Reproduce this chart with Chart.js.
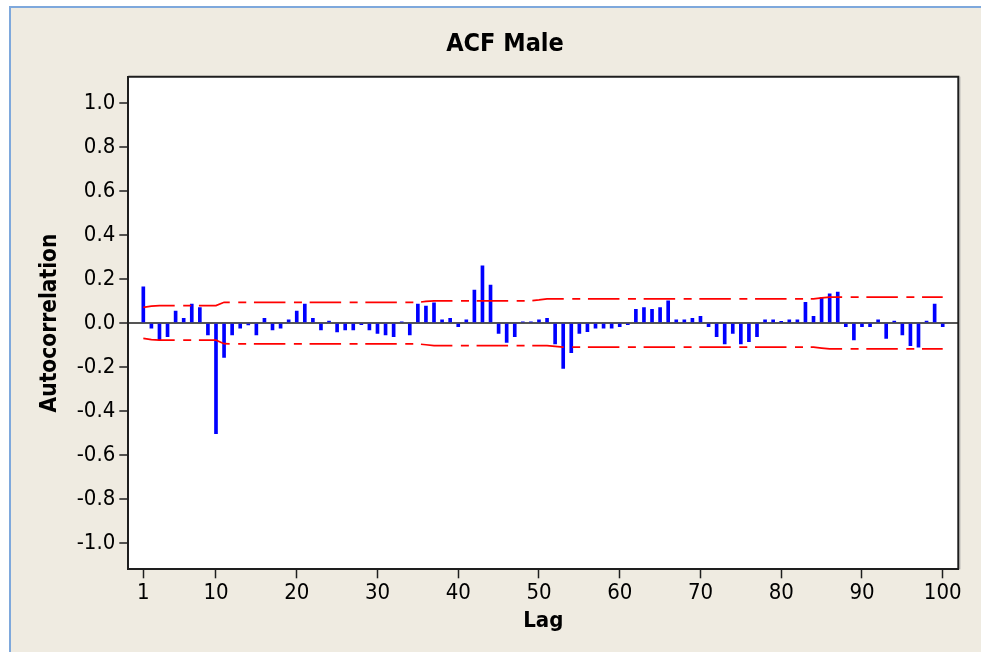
<!DOCTYPE html>
<html>
<head>
<meta charset="utf-8">
<script src="https://cdn.jsdelivr.net/npm/chart.js@4/dist/chart.umd.min.js"></script>
<style>
  html, body { margin: 0; padding: 0; background: #ffffff; width: 981px; height: 652px; overflow: hidden; }
  #frame { position: absolute; left: 9px; top: 6px; width: 972px; height: 646px;
           background: #efebe1; border-top: 2px solid #7ea8dc; border-left: 2px solid #7ea8dc; box-sizing: border-box; }
  #c { position: absolute; left: 0; top: 0; }
</style>
</head>
<body>
<div id="frame"></div>
<canvas id="c" width="981" height="652"></canvas>
<script>
const lags = [];
for (let i = 1; i <= 100; i++) lags.push(i);

const acf = [
  0.165, -0.024, -0.077, -0.062, 0.054, 0.021, 0.086, 0.070, -0.054, -0.503,
  -0.157, -0.054, -0.024, -0.009, -0.054, 0.021, -0.032, -0.024, 0.014, 0.054,
  0.086, 0.021, -0.032, 0.009, -0.040, -0.032, -0.032, -0.008, -0.032, -0.047,
  -0.054, -0.062, 0.005, -0.054, 0.086, 0.077, 0.092, 0.014, 0.021, -0.017,
  0.014, 0.150, 0.260, 0.172, -0.047, -0.088, -0.062, 0.005, 0.005, 0.014,
  0.021, -0.095, -0.206, -0.135, -0.047, -0.039, -0.024, -0.024, -0.024, -0.017,
  -0.008, 0.062, 0.070, 0.062, 0.070, 0.101, 0.014, 0.014, 0.021, 0.030,
  -0.017, -0.062, -0.095, -0.047, -0.095, -0.085, -0.062, 0.014, 0.014, 0.008,
  0.014, 0.014, 0.094, 0.030, 0.116, 0.133, 0.141, -0.017, -0.077, -0.017,
  -0.017, 0.014, -0.070, 0.009, -0.054, -0.103, -0.110, 0.009, 0.086, -0.017
];

const upperLimit = [
  0.071, 0.077, 0.079, 0.079, 0.079, 0.079, 0.079, 0.079, 0.079, 0.079,
  0.094, 0.094, 0.094, 0.094, 0.094, 0.094, 0.094, 0.094, 0.094, 0.094,
  0.094, 0.094, 0.094, 0.094, 0.094, 0.094, 0.094, 0.094, 0.094, 0.094,
  0.094, 0.094, 0.094, 0.094, 0.094, 0.098, 0.101, 0.101, 0.101, 0.101,
  0.101, 0.101, 0.101, 0.101, 0.101, 0.101, 0.101, 0.101, 0.101, 0.105,
  0.110, 0.110, 0.110, 0.110, 0.110, 0.110, 0.110, 0.110, 0.110, 0.110,
  0.110, 0.110, 0.110, 0.110, 0.110, 0.110, 0.110, 0.110, 0.110, 0.110,
  0.110, 0.110, 0.110, 0.110, 0.110, 0.110, 0.110, 0.110, 0.110, 0.110,
  0.110, 0.110, 0.110, 0.110, 0.114, 0.118, 0.118, 0.118, 0.118, 0.118,
  0.118, 0.118, 0.118, 0.118, 0.118, 0.118, 0.118, 0.118, 0.118, 0.118
];

const lowerLimit = [
  -0.070, -0.076, -0.078, -0.078, -0.078, -0.078, -0.078, -0.078, -0.078, -0.078,
  -0.094, -0.095, -0.095, -0.095, -0.095, -0.095, -0.095, -0.095, -0.095, -0.095,
  -0.095, -0.095, -0.095, -0.095, -0.095, -0.095, -0.095, -0.095, -0.095, -0.095,
  -0.095, -0.095, -0.095, -0.095, -0.095, -0.099, -0.103, -0.103, -0.103, -0.103,
  -0.103, -0.103, -0.103, -0.103, -0.103, -0.103, -0.103, -0.103, -0.103, -0.103,
  -0.103, -0.106, -0.110, -0.110, -0.110, -0.110, -0.110, -0.110, -0.110, -0.110,
  -0.110, -0.110, -0.110, -0.110, -0.110, -0.110, -0.110, -0.110, -0.110, -0.110,
  -0.110, -0.110, -0.110, -0.110, -0.110, -0.110, -0.110, -0.110, -0.110, -0.110,
  -0.110, -0.110, -0.110, -0.110, -0.114, -0.118, -0.118, -0.118, -0.118, -0.118,
  -0.118, -0.118, -0.118, -0.118, -0.118, -0.118, -0.118, -0.118, -0.118, -0.118
];

const xTickValues = [1, 10, 20, 30, 40, 50, 60, 70, 80, 90, 100];
const yTickValues = [-1.0, -0.8, -0.6, -0.4, -0.2, 0.0, 0.2, 0.4, 0.6, 0.8, 1.0];

const FONT = "'DejaVu Sans Condensed', 'DejaVu Sans', sans-serif";

const toXY = (arr) => arr.map((v, i) => ({ x: lags[i], y: v }));

const frameBox = {
  id: 'frameBox',
  beforeDraw(chart) {
    const { ctx, chartArea: a } = chart;
    ctx.save();
    ctx.fillStyle = '#ffffff';
    ctx.fillRect(a.left, a.top, a.right - a.left, a.bottom - a.top);
    ctx.restore();
  },
  afterDraw(chart) {
    const { ctx, chartArea: a } = chart;
    ctx.save();
    ctx.strokeStyle = '#1e1e1e';
    ctx.lineWidth = 2;
    ctx.beginPath();
    ctx.moveTo(a.left, a.top);
    ctx.lineTo(a.right, a.top);
    ctx.lineTo(a.right, a.bottom);
    ctx.stroke();
    ctx.strokeStyle = '#9a9a9a';
    ctx.lineWidth = 1;
    ctx.beginPath();
    ctx.moveTo(a.right + 1.5, a.top);
    ctx.lineTo(a.right + 1.5, a.bottom);
    ctx.stroke();
    ctx.restore();
  }
};

const PAD_LEFT = 51.7;
const DASH = [31.5, 8.5, 8, 7.7];

new Chart(document.getElementById('c'), {
  type: 'bar',
  data: {
    datasets: [
      {
        type: 'bar',
        data: toXY(acf),
        backgroundColor: '#0000ff',
        borderWidth: 0,
        barThickness: 3,
        order: 2
      },
      {
        type: 'line',
        data: toXY(upperLimit),
        borderColor: '#ff0000',
        borderWidth: 1.7,
        borderDash: DASH,
        pointRadius: 0,
        tension: 0,
        fill: false,
        order: 1
      },
      {
        type: 'line',
        data: toXY(lowerLimit),
        borderColor: '#ff0000',
        borderWidth: 1.7,
        borderDash: DASH,
        pointRadius: 0,
        tension: 0,
        fill: false,
        order: 1
      }
    ]
  },
  options: {
    responsive: false,
    animation: false,
    devicePixelRatio: 1,
    layout: { padding: { left: PAD_LEFT, right: 22.7, top: 0, bottom: 0 } },
    plugins: {
      legend: { display: false },
      tooltip: { enabled: false },
      title: {
        display: true,
        text: 'ACF Male',
        color: '#000000',
        font: { family: FONT, size: 25, weight: 'bold', lineHeight: 1.2 },
        padding: { top: 29, bottom: 17.7 }
      }
    },
    scales: {
      x: {
        type: 'linear',
        offset: false,
        min: -0.86,
        max: 101.93,
        afterBuildTicks: (s) => { s.ticks = xTickValues.map(v => ({ value: v })); },
        afterFit: (s) => { s.height = 82.7; },
        ticks: {
          color: '#000000',
          font: { family: FONT, size: 22 },
          padding: 2,
          maxRotation: 0,
          autoSkip: false,
          callback: (v) => String(v)
        },
        grid: { offset: false, drawOnChartArea: false, drawTicks: true, tickLength: 9, tickColor: '#1e1e1e', tickWidth: 1.5 },
        border: { display: true, color: '#1e1e1e', width: 2 },
        title: {
          display: true,
          text: 'Lag',
          color: '#000000',
          font: { family: FONT, size: 22, weight: 'bold', lineHeight: 1.2 },
          padding: { top: 0, bottom: 17.1 }
        }
      },
      y: {
        type: 'linear',
        min: -1.12,
        max: 1.12,
        afterBuildTicks: (s) => { s.ticks = yTickValues.map(v => ({ value: v })); },
        afterFit: (s) => { s.width = 128.3 - PAD_LEFT; },
        ticks: {
          color: '#000000',
          font: { family: FONT, size: 22 },
          padding: 4,
          autoSkip: false,
          callback: (v) => Number(v).toFixed(1)
        },
        grid: {
          drawOnChartArea: true,
          drawTicks: true,
          tickLength: 9,
          tickColor: '#1e1e1e',
          tickWidth: 1.5,
          lineWidth: 2,
          color: (ctx) => (ctx.tick && Math.abs(ctx.tick.value) < 1e-9) ? '#555555' : 'rgba(0,0,0,0)'
        },
        border: { display: true, color: '#1e1e1e', width: 2 },
        title: {
          display: true,
          text: 'Autocorrelation',
          color: '#000000',
          font: { family: FONT, size: 22.5, weight: 'bold', lineHeight: 1.2 },
          padding: { top: 50 - PAD_LEFT - 13.5, bottom: 0 }
        }
      }
    }
  },
  plugins: [frameBox]
});
</script>
</body>
</html>
